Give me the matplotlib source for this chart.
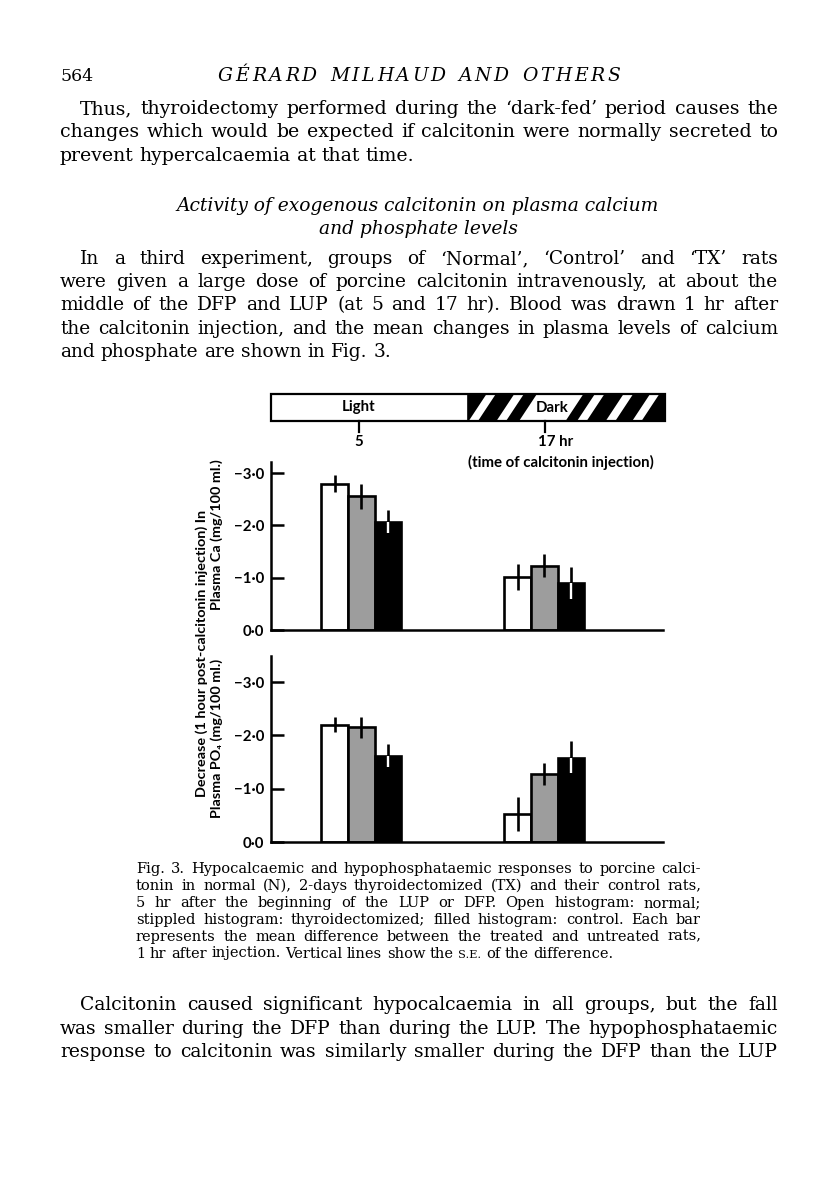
import matplotlib
matplotlib.use("Agg")
import matplotlib.pyplot as plt
import numpy as np
from matplotlib.patches import Rectangle, Polygon
from matplotlib.transforms import blended_transform_factory

# ---- data (decrease, mg/100 ml, plotted as positive) ----
hours = np.array([5.15, 16.95])           # injection time groups (bar centres)
ca_normal = [2.80, 1.01]
ca_normal_se = [0.17, 0.25]
ca_tx = [2.56, 1.23]
ca_tx_se = [0.24, 0.22]
ca_control = [2.06, 0.89]
ca_control_se = [0.24, 0.32]
po4_normal = [2.20, 0.53]
po4_normal_se = [0.14, 0.32]
po4_tx = [2.15, 1.28]
po4_tx_se = [0.20, 0.21]
po4_control = [1.61, 1.58]
po4_control_se = [0.23, 0.32]
ytick_vals = [0, 1, 2, 3]
ytick_labels = ['0\u00b70', '\u22121\u00b70', '\u22122\u00b70', '\u22123\u00b70']
tick_hours = [5, 17]
tick_labels = ['5', '17 hr']

# ---- page text ----
header_num = '564'
header_title = 'G\u00c9RARD MILHAUD AND OTHERS'
para1 = ['Thus, thyroidectomy performed during the \u2018dark-fed\u2019 period causes the',
         'changes which would be expected if calcitonin were normally secreted to',
         'prevent hypercalcaemia at that time.']
heading = ['Activity of exogenous calcitonin on plasma calcium',
           'and phosphate levels']
para2 = ['In a third experiment, groups of \u2018Normal\u2019, \u2018Control\u2019 and \u2018TX\u2019 rats',
         'were given a large dose of porcine calcitonin intravenously, at about the',
         'middle of the DFP and LUP (at 5 and 17 hr). Blood was drawn 1 hr after',
         'the calcitonin injection, and the mean changes in plasma levels of calcium',
         'and phosphate are shown in Fig. 3.']
caption = ['Fig. 3. Hypocalcaemic and hypophosphataemic responses to porcine calci-',
           'tonin in normal (N), 2-days thyroidectomized (TX) and their control rats,',
           '5 hr after the beginning of the LUP or DFP. Open histogram: normal;',
           'stippled histogram: thyroidectomized; filled histogram: control. Each bar',
           'represents the mean difference between the treated and untreated rats,',
           '1 hr after injection. Vertical lines show the ^S.E. of the difference.']
para3 = ['Calcitonin caused significant hypocalcaemia in all groups, but the fall',
         'was smaller during the DFP than during the LUP. The hypophosphataemic',
         'response to calcitonin was similarly smaller during the DFP than the LUP']

W, H = 816, 1190
SERIF = ['DejaVu Serif']
SANS = ['Lato', 'DejaVu Sans']
FS = 10.8   # figure label size

fig = plt.figure(figsize=(W / 100, H / 100), dpi=100)
renderer = fig.canvas.get_renderer()


def fx(px):
    return px / W


def fy(py):
    return 1 - py / H


def text_w(s, size, style='normal'):
    t = fig.text(0, 0, s, fontsize=size, style=style, family=SERIF)
    w = t.get_window_extent(renderer).width
    t.remove()
    return w


def fit_size(lines, x0, x1, indent, style='normal', n_just=None):
    n_just = len(lines) - 1 if n_just is None else n_just
    sizes = []
    for i, line in enumerate(lines[:n_just]):
        avail = x1 - x0 - (indent if i == 0 else 0)
        sizes.append(10 * avail / text_w(line.replace('^', ''), 10, style))
    return min(sizes) * 0.985


def put_line(y, text, x0, x1, size, style='normal', justify=True, indent=0):
    words = text.split()
    objs, widths = [], []
    for w in words:
        s = size
        if w.startswith('^'):
            w, s = w[1:], size * 0.78
        t = fig.text(0, fy(y), w, fontsize=s, style=style, family=SERIF, va='baseline')
        objs.append(t)
        widths.append(t.get_window_extent(renderer).width)
    left = x0 + indent
    gap = text_w('a a', size, style) - text_w('aa', size, style)
    if justify and len(words) > 1:
        gap = (x1 - left - sum(widths)) / (len(words) - 1)
    x = left
    for t, w in zip(objs, widths):
        t.set_x(fx(x))
        x += w + gap


def put_par(lines, y0, dy, x0, x1, indent, all_justified=False):
    n_just = len(lines) if all_justified else len(lines) - 1
    size = fit_size(lines, x0, x1, indent, n_just=n_just)
    for i, line in enumerate(lines):
        put_line(y0 + i * dy, line, x0, x1, size, justify=i < n_just,
                 indent=indent if i == 0 else 0)


def put_spaced(y, text, x0, x1, size, style='italic'):
    # letter-spaced running head: words placed with extra tracking
    words = text.split()
    sp = 2.2 * (text_w('A A', size, style) - text_w('AA', size, style))
    word_w = [text_w(w, size, style) for w in words]
    n_letters = sum(len(w) - 1 for w in words)
    extra = (x1 - x0 - sum(word_w) - sp * (len(words) - 1)) / max(n_letters, 1)
    x = x0
    for w in words:
        for ch in w:
            t = fig.text(fx(x), fy(y), ch, fontsize=size, style=style, family=SERIF,
                         va='baseline')
            x += t.get_window_extent(renderer).width + extra
        x += sp - extra


# header
fig.text(fx(60), fy(81), header_num, fontsize=12.5, family=SERIF, va='baseline')
put_spaced(81, header_title, 218, 620, 13.5)

put_par(para1, 114, 23.3, 60, 778, 20)
head_size = 10 * 484 / text_w(heading[0], 10, 'italic')
for i, line in enumerate(heading):
    fig.text(fx(418), fy(211 + i * 23), line, fontsize=head_size, style='italic',
             family=SERIF, ha='center', va='baseline')
put_par(para2, 264, 23.2, 60, 778, 20)
put_par(caption, 873, 16.9, 136, 701, 0)
put_par(para3, 1010, 23.5, 60, 778, 20, all_justified=True)

# ---- figure ----
bw = 1.72
x_lo, x_hi = -0.68, 24.6
px_per_hr = 15.5


def panel(bottom_px, top_px, px_per_unit, series):
    ax = fig.add_axes([fx(271), fy(bottom_px), fx(663) - fx(271), (bottom_px - top_px) / H])
    ax.set_xlim(x_lo, x_hi)
    ax.set_ylim(0, (bottom_px - top_px) / px_per_unit)
    for k, (vals, se, fc) in enumerate(series):
        xs = hours + (k - 1) * bw
        ax.bar(xs, vals, width=bw, facecolor=fc, edgecolor='black', linewidth=1.9, zorder=2)
        vals = np.array(vals)
        se = np.array(se)
        if fc == 'black':
            ax.vlines(xs, vals, vals + se, color='black', lw=1.9, zorder=3)
            ax.vlines(xs, vals - se, vals, color='black', lw=3.8, zorder=3)
            ax.vlines(xs, vals - se + 0.03, vals, color='white', lw=1.7, zorder=4)
        else:
            ax.vlines(xs, vals - se, vals + se, color='black', lw=1.9, zorder=3)
    for s in ['top', 'right']:
        ax.spines[s].set_visible(False)
    for s in ['left', 'bottom']:
        ax.spines[s].set_linewidth(1.8)
    ax.set_xticks([])
    ax.set_yticks(ytick_vals)
    ax.set_yticklabels(ytick_labels, family=SANS, fontweight='bold', fontsize=FS)
    ax.tick_params(axis='y', direction='in', length=9, width=1.8, pad=5)
    ax.patch.set_alpha(0)
    return ax


ax1 = panel(630, 462, 52.3, [(ca_normal, ca_normal_se, 'white'),
                             (ca_tx, ca_tx_se, '#9d9d9d'),
                             (ca_control, ca_control_se, 'black')])
ax2 = panel(842, 656, 53.3, [(po4_normal, po4_normal_se, 'white'),
                             (po4_tx, po4_tx_se, '#9d9d9d'),
                             (po4_control, po4_control_se, 'black')])

# light / dark bar
axt = fig.add_axes([fx(271), fy(421), fx(665) - fx(271), 27 / H])
t_hi = x_lo + (665 - 271) / px_per_hr
axt.set_xlim(x_lo, t_hi)
axt.set_ylim(0, 1)
axt.axis('off')
axt.add_patch(Rectangle((x_lo, 0), 12 - x_lo, 1, facecolor='white', edgecolor='none'))
dark = Rectangle((12, 0), t_hi - 12, 1, facecolor='black', edgecolor='none')
axt.add_patch(dark)
slant = 1.15
stripes = [(12.95, 0.6), (14.75, 0.62), (17.4, 3.0), (19.95, 0.62), (21.8, 0.62), (23.5, 0.6)]
for c, w in stripes:
    x0 = c - w / 2 - slant / 2
    p = Polygon([(x0, 0), (x0 + w, 0), (x0 + w + slant, 1), (x0 + slant, 1)],
                closed=True, facecolor='white', edgecolor='none')
    axt.add_patch(p)
    p.set_clip_path(dark)
axt.add_patch(Rectangle((x_lo, 0), t_hi - x_lo, 1, facecolor='none', edgecolor='black',
                        linewidth=1.6, clip_on=False))
axt.plot([12, 12], [0, 1], color='black', lw=1.2)
axt.text(5.0, 0.5, 'Light', ha='center', va='center', family=SANS, fontweight='bold', fontsize=FS)
axt.text(17.45, 0.5, 'Dark', ha='center', va='center', family=SANS, fontweight='bold', fontsize=FS)
tr = blended_transform_factory(axt.transData, fig.transFigure)
for hr, lab in zip(tick_hours, tick_labels):
    axt.plot([hr, hr], [fy(421), fy(432)], transform=tr, color='black', lw=1.6, clip_on=False)
    if hr == 5:
        fig.text(hr, fy(442), lab, transform=tr, ha='center', va='center', family=SANS,
                 fontweight='bold', fontsize=FS)
    else:
        fig.text(hr - 0.45, fy(442), lab, transform=tr, ha='left', va='center', family=SANS,
                 fontweight='bold', fontsize=FS)
fig.text(fx(561), fy(462), '(time of calcitonin injection)', ha='center', va='center',
         family=SANS, fontweight='bold', fontsize=FS)

# y labels
fig.text(fx(202), fy(653), 'Decrease (1 hour post-calcitonin injection) In', rotation=90,
         ha='center', va='center', family=SANS, fontweight='bold', fontsize=10.4)
fig.text(fx(217), fy(535), 'Plasma Ca (mg/100 ml.)', rotation=90,
         ha='center', va='center', family=SANS, fontweight='bold', fontsize=10.4)
fig.text(fx(217), fy(738), 'Plasma PO\u2084 (mg/100 ml.)', rotation=90,
         ha='center', va='center', family=SANS, fontweight='bold', fontsize=10.4)

fig.savefig('out.png', dpi=100)
